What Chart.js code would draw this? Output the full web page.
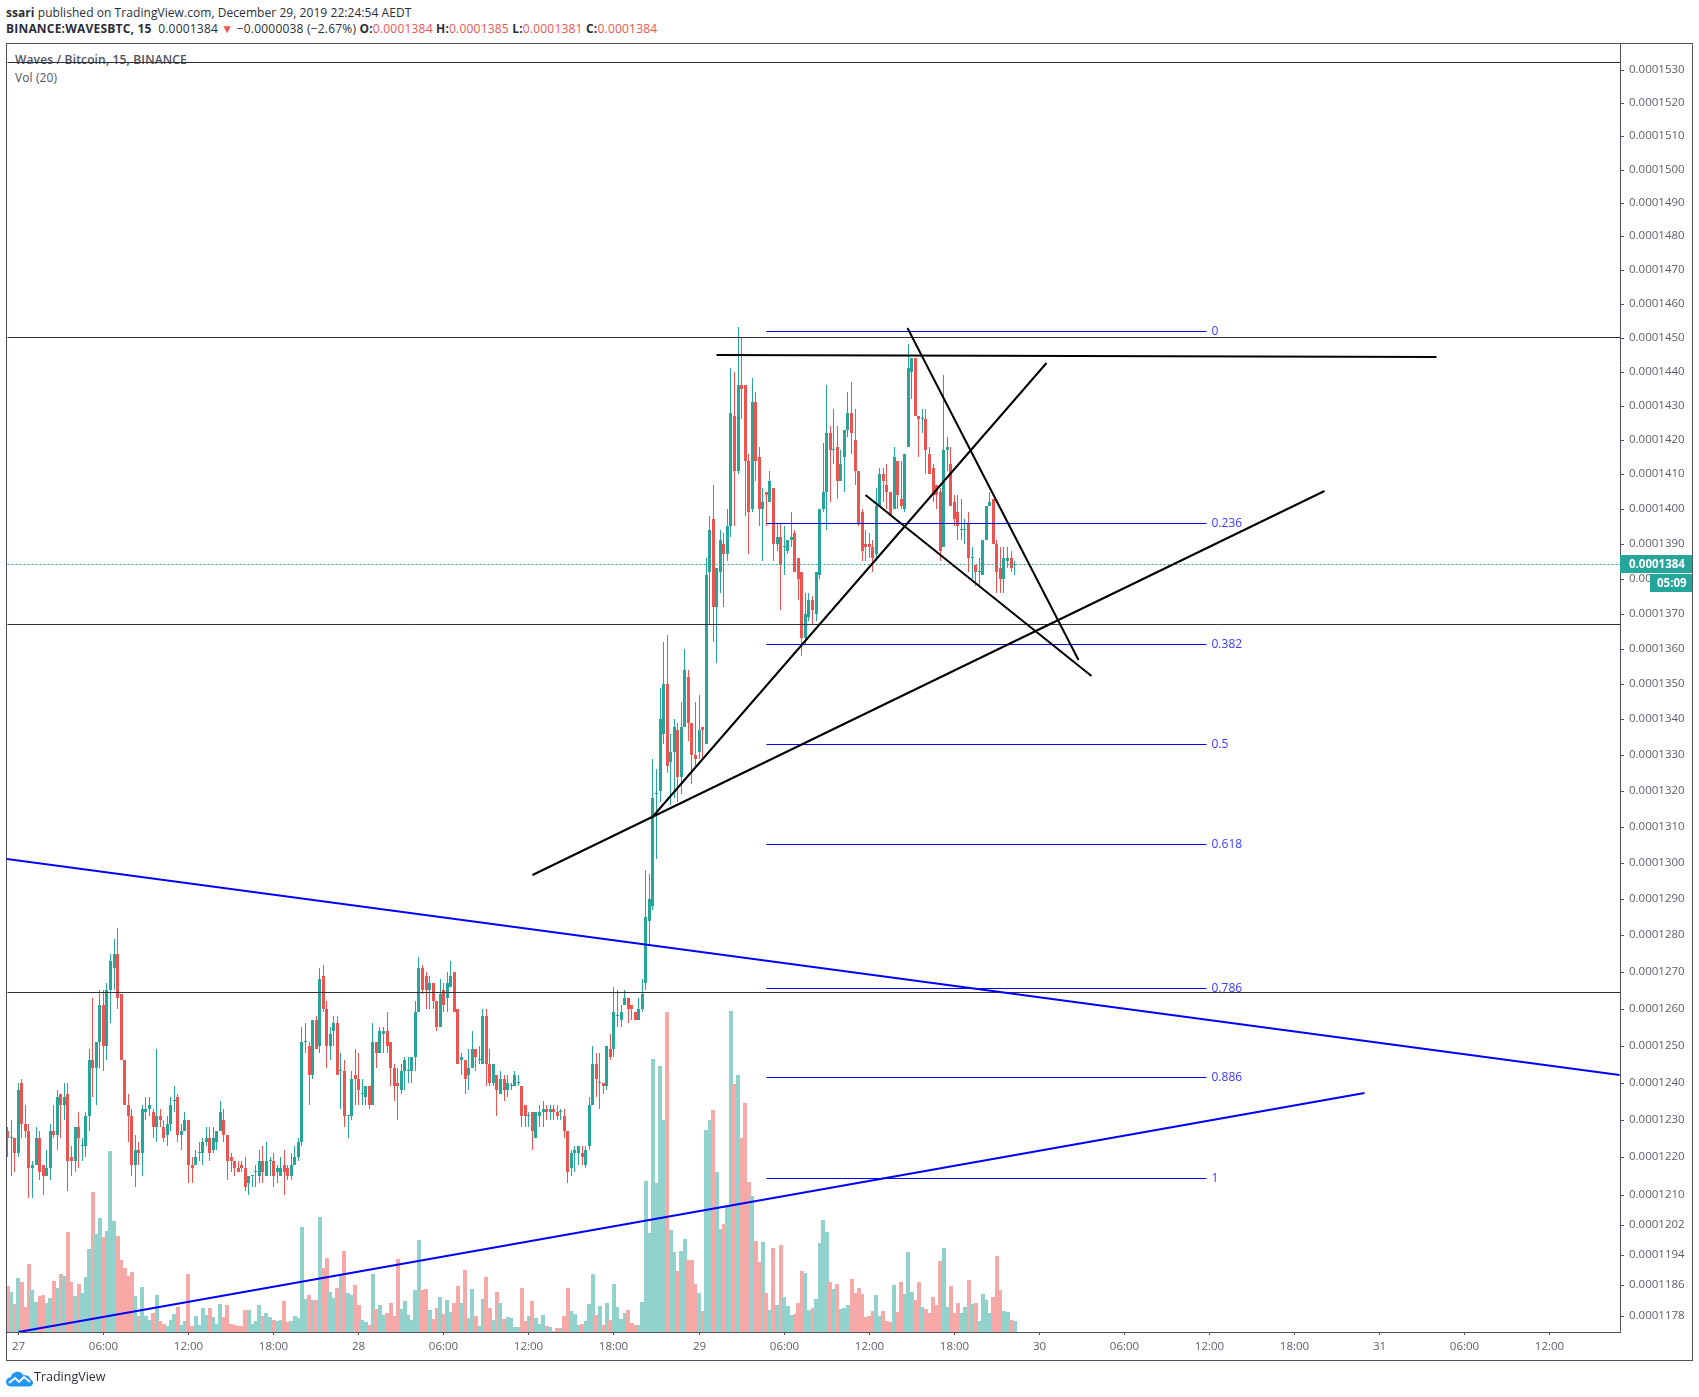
<!DOCTYPE html>
<html><head><meta charset="utf-8"><title>Waves / Bitcoin, 15, BINANCE</title>
<style>
html,body{margin:0;padding:0;background:#fff;width:1699px;height:1397px;overflow:hidden}
body{position:relative;font-family:"Open Sans",sans-serif;color:#2a2e39}
.abs{position:absolute;white-space:nowrap}
#chart{position:absolute;left:0;top:0;width:1699px;height:1397px}
#frame{position:absolute;left:6px;top:43px;width:1685px;height:1316px;border:1px solid #50535e}
.h{font-size:12px;line-height:16px;left:6px}
.red{color:#ef5350}
.box{background:#26a69a;color:#fff;font-weight:700;font-size:11.5px;line-height:18px;height:18px}
</style>
<script src="https://cdn.jsdelivr.net/npm/chart.js@4/dist/chart.umd.min.js"></script>
</head><body>
<div class="abs h" style="top:5px;letter-spacing:.06px"><b>ssari</b> published on TradingView.com, December 29, 2019 22:24:54 AEDT</div>
<div class="abs h" style="top:21px;letter-spacing:.2px"><b>BINANCE:WAVESBTC, 15</b>&nbsp; 0.0001384 <span class="red">▼</span> −0.0000038 (−2.67%) <b>O:</b><span class="red">0.0001384</span> <b>H:</b><span class="red">0.0001385</span> <b>L:</b><span class="red">0.0001381</span> <b>C:</b><span class="red">0.0001384</span></div>
<div class="abs" style="left:15px;top:52px;font-size:12px;line-height:16px;color:#50535e;font-weight:600;letter-spacing:.15px">Waves / Bitcoin, 15, BINANCE</div>
<div class="abs" style="left:15px;top:70px;font-size:12px;line-height:16px;color:#50535e;letter-spacing:.1px">Vol (20)</div>
<canvas id="chart" width="1699" height="1397"></canvas>
<div id="frame"></div>
<div class="abs box" style="left:1620px;top:555px;width:63px;padding-left:9px">0.0001384</div>
<div class="abs box" style="left:1650px;top:574px;width:35px;padding-left:7px">05:09</div>
<svg class="abs" style="left:6px;top:1371px" width="27" height="16" viewBox="0 0 27 16"><path d="M5 15.5C1.5 15.5 0 13 0 11c0-2.600 2-4.500 4.500-4.500C5.500 3 8.500 .8 11.500 .8c2.800 0 5 1.500 6.200 3.800 1-.5 2-.6 3-.3 2 .6 3.300 2.200 3.500 4 1.700.5 2.800 2 2.800 3.500 0 2.200-1.800 3.700-3.800 3.700z" fill="#2196f3"/><path d="M3 12l6-5 4 4 5-5 6 5" fill="none" stroke="#fff" stroke-width="1.800"/></svg>
<div class="abs" style="left:34px;top:1368px;font-size:12.5px;line-height:18px;color:#2a2e39">TradingView</div>
<script>
// prices are in units of 0.0000001 BTC; bar 0 is the 15-minute bar of 26 Dec 23:15
const opens=[1227,1225,1225,1221,1240,1229,1227,1217,1218,1225,
1218,1215,1217,1227,1226,1237,1234,1237,1220,1219,
1228,1223,1223,1231,1246,1244,1251,1261,1250,1265,
1271,1275,1264,1246,1234,1231,1218,1222,1221,1232,
1233,1232,1228,1231,1228,1226,1229,1235,1236,1226,
1227,1230,1218,1218,1221,1221,1224,1225,1222,1224,
1227,1230,1226,1220,1219,1217,1218,1217,1213,1215,
1216,1215,1219,1215,1219,1219,1216,1215,1218,1217,
1215,1218,1220,1224,1251,1250,1242,1257,1250,1269,
1260,1250,1254,1256,1243,1243,1231,1231,1242,1241,
1237,1236,1239,1234,1251,1248,1253,1254,1251,1244,
1240,1238,1243,1243,1243,1247,1259,1271,1269,1265,
1267,1262,1255,1265,1263,1266,1270,1260,1246,1246,
1242,1244,1249,1246,1245,1258,1245,1240,1242,1237,
1241,1238,1239,1239,1240,1239,1234,1231,1232,1225,
1231,1232,1233,1232,1233,1232,1232,1231,1227,1217,
1221,1221,1221,1218,1223,1234,1245,1240,1240,1239,
1249,1249,1258,1257,1261,1263,1261,1259,1257,1260,
1267,1284,1288,1319,1320,1336,1350,1328,1331,1337,
1324,1338,1352,1339,1330,1331,1338,1333,1382,1397,
1372,1382,1390,1387,1395,1427,1411,1436,1436,1414,
1400,1431,1415,1400,1405,1402,1406,1390,1392,1389,
1388,1391,1393,1386,1382,1363,1369,1374,1370,1381,
1400,1405,1422,1417,1418,1408,1415,1423,1428,1420,
1411,1399,1390,1390,1389,1387,1401,1410,1407,1405,
1400,1414,1403,1400,1418,1440,1444,1427,1426,1426,
1416,1412,1407,1405,1389,1417,1413,1402,1399,1394,
1394,1396,1386,1384,1382,1381,1391,1401,1403,1390,
1383,1380,1385,1386,1384];
const highs=[1228,1230,1225,1240,1241,1234,1229,1219,1228,1227,
1218,1222,1229,1234,1238,1237,1240,1240,1223,1228,
1232,1225,1232,1249,1263,1251,1265,1265,1267,1275,
1279,1282,1264,1246,1237,1233,1226,1224,1234,1236,
1236,1233,1249,1233,1230,1231,1236,1239,1237,1229,
1232,1230,1220,1222,1224,1225,1228,1228,1228,1227,
1235,1233,1226,1221,1219,1219,1219,1220,1215,1215,
1218,1222,1223,1224,1220,1221,1218,1220,1222,1218,
1221,1223,1225,1255,1256,1251,1257,1258,1271,1272,
1262,1255,1258,1258,1248,1246,1231,1243,1249,1248,
1241,1239,1239,1256,1251,1255,1255,1259,1251,1245,
1244,1245,1247,1247,1247,1262,1274,1272,1270,1269,
1267,1262,1268,1267,1270,1273,1270,1260,1248,1246,
1249,1254,1249,1250,1260,1260,1249,1245,1242,1243,
1242,1242,1240,1243,1242,1239,1234,1232,1232,1232,
1234,1235,1234,1234,1234,1234,1233,1233,1227,1222,
1223,1223,1223,1223,1236,1250,1248,1248,1240,1250,
1253,1266,1265,1261,1265,1263,1261,1259,1263,1268,
1298,1297,1329,1326,1349,1362,1364,1336,1340,1339,
1345,1360,1354,1339,1345,1347,1338,1386,1398,1407,
1383,1394,1393,1400,1441,1440,1453,1450,1436,1416,
1438,1434,1418,1406,1405,1411,1406,1396,1396,1395,
1391,1399,1394,1386,1382,1376,1376,1375,1382,1400,
1419,1436,1424,1429,1424,1417,1423,1434,1437,1429,
1411,1400,1394,1393,1391,1406,1412,1412,1413,1405,
1418,1414,1414,1416,1448,1444,1444,1427,1429,1429,
1418,1413,1407,1406,1439,1421,1418,1404,1404,1403,
1397,1399,1389,1384,1386,1391,1401,1405,1403,1391,
1389,1389,1389,1388,1385];
const lows=[1220,1215,1216,1220,1225,1225,1209,1209,1218,1214,
1210,1215,1214,1225,1222,1225,1230,1211,1215,1216,
1217,1219,1220,1227,1236,1234,1244,1243,1246,1256,
1265,1260,1246,1234,1224,1215,1212,1218,1215,1230,
1231,1225,1224,1228,1224,1223,1227,1232,1224,1222,
1227,1213,1213,1218,1219,1218,1223,1219,1221,1222,
1227,1224,1214,1216,1215,1216,1216,1211,1210,1212,
1212,1213,1213,1215,1215,1212,1213,1215,1210,1214,
1214,1218,1219,1223,1248,1234,1241,1249,1248,1259,
1244,1246,1250,1242,1233,1228,1225,1230,1234,1234,
1234,1234,1233,1234,1244,1248,1248,1248,1239,1235,
1230,1237,1238,1240,1240,1243,1259,1264,1260,1260,
1260,1254,1255,1259,1259,1266,1259,1245,1242,1237,
1238,1244,1243,1245,1245,1239,1239,1239,1231,1237,
1235,1236,1238,1239,1239,1228,1228,1228,1222,1225,
1228,1228,1230,1230,1230,1230,1230,1225,1213,1215,
1216,1218,1218,1217,1222,1234,1236,1233,1237,1238,
1246,1247,1255,1255,1261,1256,1257,1257,1257,1259,
1265,1277,1287,1301,1317,1333,1325,1316,1318,1317,
1319,1338,1334,1322,1327,1329,1329,1333,1367,1362,
1356,1376,1372,1385,1392,1395,1410,1426,1398,1387,
1399,1408,1395,1385,1395,1402,1385,1388,1371,1381,
1387,1389,1382,1374,1358,1361,1368,1367,1368,1380,
1399,1394,1402,1413,1403,1408,1405,1421,1416,1407,
1395,1385,1385,1386,1382,1385,1401,1402,1400,1398,
1400,1400,1400,1399,1418,1432,1427,1415,1422,1410,
1410,1402,1400,1385,1389,1411,1401,1395,1391,1391,
1390,1382,1380,1378,1378,1381,1391,1401,1390,1376,
1376,1376,1383,1382,1381];
const closes=[1225,1225,1221,1238,1229,1227,1217,1218,1225,1216,
1215,1217,1227,1226,1236,1234,1236,1219,1219,1228,
1225,1223,1231,1246,1244,1251,1261,1250,1265,1273,
1275,1263,1246,1234,1231,1218,1222,1221,1233,1233,
1234,1228,1231,1230,1225,1229,1234,1235,1226,1227,
1230,1218,1217,1220,1221,1224,1225,1221,1225,1227,
1232,1226,1219,1219,1217,1216,1217,1212,1215,1215,
1216,1219,1216,1219,1219,1215,1217,1217,1216,1215,
1218,1220,1224,1251,1251,1242,1257,1249,1268,1260,
1250,1253,1256,1242,1243,1231,1231,1241,1241,1238,
1237,1239,1234,1251,1248,1254,1254,1250,1244,1239,
1239,1243,1246,1243,1247,1259,1271,1265,1265,1267,
1262,1255,1264,1261,1267,1269,1259,1245,1247,1241,
1244,1249,1247,1246,1258,1245,1240,1245,1238,1241,
1238,1240,1239,1242,1240,1231,1231,1231,1227,1232,
1232,1233,1232,1233,1232,1231,1232,1227,1216,1221,
1222,1223,1220,1222,1234,1245,1241,1240,1239,1250,
1247,1259,1258,1259,1263,1260,1260,1257,1260,1264,
1285,1290,1318,1319,1340,1350,1327,1331,1338,1324,
1338,1354,1339,1330,1329,1337,1337,1381,1394,1372,
1383,1391,1387,1395,1428,1411,1436,1435,1414,1399,
1431,1414,1400,1402,1404,1408,1390,1392,1384,1389,
1391,1392,1382,1380,1363,1370,1374,1371,1382,1400,
1405,1422,1417,1417,1408,1413,1423,1428,1422,1411,
1396,1388,1389,1389,1386,1401,1410,1408,1405,1398,
1415,1404,1401,1416,1441,1444,1427,1426,1426,1417,
1410,1404,1404,1388,1417,1418,1401,1397,1395,1394,
1394,1386,1386,1382,1382,1391,1401,1402,1390,1382,
1380,1386,1386,1383,1384];
const volumes=[138,120,84,162,150,75,204,126,90,108,
111,87,102,153,132,174,168,300,150,108,
144,117,165,249,420,294,342,285,303,543,
333,288,216,192,168,180,108,48,135,48,
36,57,111,33,24,18,36,54,75,21,
33,174,18,48,21,72,51,72,45,24,
84,45,81,24,21,18,18,66,66,24,
33,81,48,57,45,36,33,36,93,30,
33,48,42,315,99,111,96,96,345,192,
222,120,102,132,171,243,117,111,141,81,
36,30,21,174,69,81,51,57,87,48,
219,69,93,51,36,126,276,126,129,66,
39,72,105,54,96,60,87,138,87,186,
42,129,48,18,99,165,72,36,120,87,
39,45,42,15,15,132,33,48,93,42,
24,51,18,15,3,12,12,48,132,63,
54,21,24,33,84,174,51,78,21,87,
36,144,75,39,57,66,27,21,21,90,
453,297,819,447,798,636,960,306,240,183,
243,279,216,216,144,117,63,606,636,666,
480,309,324,375,963,744,771,582,687,450,
408,273,210,270,117,66,252,81,261,105,
78,51,54,87,183,177,66,72,99,267,
336,300,150,129,144,69,72,81,159,117,
132,114,45,48,63,111,48,63,33,30,
141,60,150,114,240,120,96,150,75,69,
57,105,81,213,252,75,138,57,87,57,
75,156,84,87,33,114,96,57,105,228,
126,63,60,36,33];

const priceTicks=[1530,1520,1510,1500,1490,1480,1470,1460,1450,1440,1430,1420,1410,1400,1390,1380,1370,1360,1350,1340,1330,1320,1310,1300,1290,1280,1270,1260,1250,1240,1230,1220,1210,1202,1194,1186,1178];
const timeLabels=['27','06:00','12:00','18:00','28','06:00','12:00','18:00','29','06:00','12:00','18:00','30','06:00','12:00','18:00','31','06:00','12:00'];
const timeTickBars=[3,27,51,75,99,123,147,171,195,219,243,267,291,315,339,363,387,411,435];

const levelPrices=[1532.5,1449.9,1367,1264.5];
const lastPrice=1384;
const fibLabels=['0','0.236','0.382','0.5','0.618','0.786','0.886','1'];
const fibPrices=[1451.8,1395.9,1361.2,1333,1305.2,1265.4,1241.4,1214.4];
const fibBars=[213.9,338];
const fibLabelBar=339.4;
const axisBars=[-0.186,454.75];
const priceRange=[1173.8,1538.35];
const priceShift=1000;

const blackLineBars=[[200,403.1],[181.7,293.1],[147.9,371.3],[253.9,301.9],[242,305.8]];
const blackLinePrices=[[1444.9,1444.4],[1312.4,1442.5],[1296.5,1405.2],[1452.7,1356.8],[1404,1352.3]];
const blueLineBars=[[-0.19,454.5],[3,382.8]];
const blueLinePrices=[[1301,1242],[1173.8,1237.2]];

const GREEN='#26a69a',RED='#ef5350',GREEN_V='#92d2cc',RED_V='#f7a9a7';

class SnapX extends Chart.LinearScale{
  getPixelForValue(v){
    const p=super.getPixelForValue(v);
    return this.options.wholePixel?Math.round(p):Math.floor(p)+0.5;
  }
}
SnapX.id='snapX';SnapX.defaults={};
class PriceScale extends Chart.LinearScale{
  getPixelForValue(v){
    if(v===null||v===undefined||isNaN(v))return NaN;
    const lo=Math.log(this.min+priceShift),hi=Math.log(this.max+priceShift);
    const p=this.bottom-(Math.log(v+priceShift)-lo)/(hi-lo)*(this.bottom-this.top);
    return this.options.halfPixel?Math.floor(p)+0.5:Math.round(p);
  }
  getValueForPixel(px){
    const lo=Math.log(this.min+priceShift),hi=Math.log(this.max+priceShift);
    return Math.exp(lo+(this.bottom-px)/(this.bottom-this.top)*(hi-lo))-priceShift;
  }
}
PriceScale.id='priceScale';PriceScale.defaults={};
Chart.register(SnapX,PriceScale);

const isUp=i=>closes[i]>=opens[i];
const bars=opens.map((_,i)=>i);
const straight=(name,xs,ys,color,width,axis,extra)=>Object.assign({
  type:'line',label:name,data:xs.map((x,i)=>({x,y:ys[i]})),borderColor:color,borderWidth:width,
  pointRadius:0,tension:0,fill:false,yAxisID:axis,xAxisID:'x',order:1},extra||{});

const datasets=[
 {type:'bar',label:'Vol',data:bars.map(i=>({x:i,y:volumes[i]})),backgroundColor:bars.map(i=>isUp(i)?GREEN_V:RED_V),
  xAxisID:'xv',yAxisID:'vol',grouped:false,barPercentage:2,categoryPercentage:1,maxBarThickness:4,inflateAmount:0,borderWidth:0,order:10},
 {type:'bar',label:'Wick',data:bars.map(i=>({x:i,y:[lows[i],highs[i]]})),backgroundColor:bars.map(i=>isUp(i)?GREEN:RED),
  xAxisID:'x',yAxisID:'y',grouped:false,barPercentage:1,categoryPercentage:1,maxBarThickness:1,inflateAmount:0,borderWidth:0,order:6},
 {type:'bar',label:'Body',data:bars.map(i=>({x:i,y:[Math.min(opens[i],closes[i]),Math.max(opens[i],closes[i])]})),backgroundColor:bars.map(i=>isUp(i)?GREEN:RED),
  xAxisID:'x',yAxisID:'y',grouped:false,barPercentage:1,categoryPercentage:1,maxBarThickness:3,minBarLength:1,inflateAmount:0,borderWidth:0,order:5},
];
levelPrices.forEach((p,i)=>datasets.push(straight('level '+i,axisBars,[p,p],'#2f3137',1,'yl',{order:3})));
datasets.push(straight('last',axisBars,[lastPrice,lastPrice],GREEN,1,'yl',{borderDash:[2,2],order:4}));
fibPrices.forEach((p,i)=>datasets.push(straight('fib '+fibLabels[i],fibBars,[p,p],'#0000ff',1,'yl',{order:2})));
blackLineBars.forEach((xs,i)=>datasets.push(straight('black '+i,xs,blackLinePrices[i],'#000000',2,'y')));
blueLineBars.forEach((xs,i)=>datasets.push(straight('blue '+i,xs,blueLinePrices[i],'#0000ff',2,'y')));

const fibText={id:'fibText',afterDatasetsDraw(c){
  const {ctx,scales}=c;ctx.save();
  ctx.font='12px "Open Sans",sans-serif';ctx.fillStyle='#3a3aff';ctx.textBaseline='middle';ctx.textAlign='left';
  fibLabels.forEach((t,i)=>ctx.fillText(t,scales.x.getPixelForValue(fibLabelBar),scales.yl.getPixelForValue(fibPrices[i])));
  ctx.restore();
}};
const axisColor='#50535e',labelColor='#5d606b';
new Chart(document.getElementById('chart'),{
 type:'bar',
 data:{datasets},
 plugins:[fibText],
 options:{
  responsive:false,animation:false,events:[],normalized:false,
  layout:{padding:{left:7,right:7,top:43,bottom:37}},
  plugins:{legend:{display:false},tooltip:{enabled:false},title:{display:false}},
  elements:{line:{capBezierPoints:false}},
  scales:{
   x:{type:'snapX',axis:'x',position:'bottom',offset:false,min:axisBars[0],max:axisBars[1],
      grid:{drawOnChartArea:false,offset:false,tickLength:3,tickColor:axisColor},border:{display:true,color:axisColor},
      ticks:{autoSkip:false,maxRotation:0,minRotation:0,padding:5,color:labelColor,font:{family:'"Open Sans",sans-serif',size:11.5},
        callback:v=>{const k=timeTickBars.indexOf(v);return k<0?'':timeLabels[k];}},
      afterBuildTicks(a){a.ticks=timeTickBars.map(value=>({value}));},
      afterFit(a){a.height=28;}},
   xv:{type:'snapX',axis:'x',display:false,offset:false,wholePixel:true,min:axisBars[0],max:axisBars[1],grid:{offset:false}},
   y:{type:'priceScale',axis:'y',position:'right',min:priceRange[0],max:priceRange[1],
      grid:{drawOnChartArea:false,tickLength:4,tickColor:axisColor},border:{display:true,color:axisColor},
      ticks:{autoSkip:false,padding:5,color:labelColor,font:{family:'"Open Sans",sans-serif',size:11.5},
        callback:v=>(v/1e7).toFixed(7)},
      afterBuildTicks(a){a.ticks=priceTicks.map(value=>({value}));},
      afterFit(a){a.width=72;}},
   yl:{type:'priceScale',axis:'y',display:false,halfPixel:true,min:priceRange[0],max:priceRange[1]},
   vol:{type:'linear',axis:'y',display:false,min:0,max:3867}
  }
 }
});
</script>
</body></html>
